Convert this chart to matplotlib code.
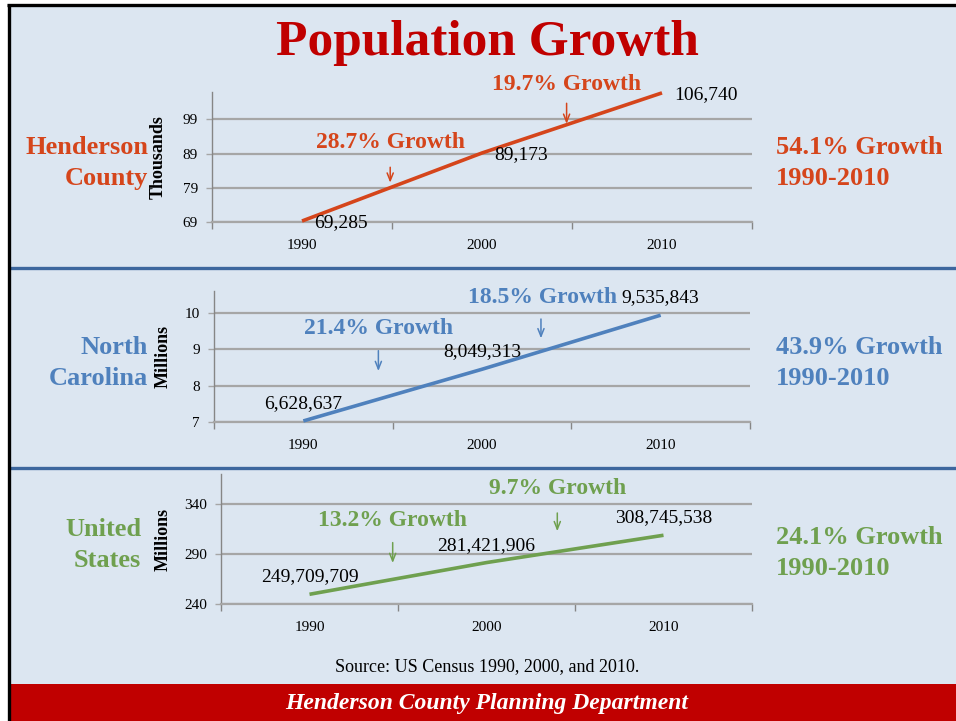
import matplotlib
matplotlib.use("Agg")
import matplotlib.pyplot as plt
from matplotlib.lines import Line2D
from matplotlib.patches import Rectangle
from matplotlib.ticker import FixedLocator, FuncFormatter

# ---------------- data ----------------
years = ["1990", "2000", "2010"]
henderson = [69.285, 89.173, 106.740]          # thousands
henderson_labels = ["69,285", "89,173", "106,740"]
henderson_yticks = [69, 79, 89, 99]
nc = [6.628637, 8.049313, 9.535843]             # millions
nc_labels = ["6,628,637", "8,049,313", "9,535,843"]
nc_yticks = [6.6, 7.6, 8.6, 9.6]                # shown rounded: 7, 8, 9, 10
us = [249.709709, 281.421906, 308.745538]       # millions
us_labels = ["249,709,709", "281,421,906", "308,745,538"]
us_yticks = [240, 290, 340]

growth_hend = ["28.7% Growth", "19.7% Growth"]
growth_nc = ["21.4% Growth", "18.5% Growth"]
growth_us = ["13.2% Growth", "9.7% Growth"]
total_hend = "54.1% Growth\n1990-2010"
total_nc = "43.9% Growth\n1990-2010"
total_us = "24.1% Growth\n1990-2010"

# ---------------- style ----------------
W, H = 956, 721
BG = "#dce6f1"
ORANGE = "#d5451b"
BLUE = "#4f81bd"
GREEN = "#6fa04f"
RED = "#c00000"
GRID = "#a6a6a6"
SERIF = ["Liberation Serif", "DejaVu Serif"]
plt.rcParams["font.family"] = SERIF

fig = plt.figure(figsize=(W / 100, H / 100), dpi=100)
fig.patch.set_facecolor("white")


def fx(px):
    return px / W


def fy(py):
    return 1 - py / H


# background panel
fig.add_artist(Rectangle((fx(9), fy(721)), 1 - fx(9), fy(5) - fy(721),
                         transform=fig.transFigure, facecolor=BG, edgecolor="none", zorder=0))
# red footer banner
fig.add_artist(Rectangle((fx(9), fy(721)), 1 - fx(9), fy(684) - fy(721),
                         transform=fig.transFigure, facecolor=RED, edgecolor="none", zorder=1))
# black border top and left
fig.add_artist(Line2D([fx(7), 1], [fy(4.5), fy(4.5)], transform=fig.transFigure,
                      color="black", lw=2.4, zorder=5, solid_capstyle="butt"))
fig.add_artist(Line2D([fx(8.5), fx(8.5)], [fy(3.5), 0], transform=fig.transFigure,
                      color="black", lw=2.4, zorder=5, solid_capstyle="butt"))
# blue dividers
for yy in (268, 468):
    fig.add_artist(Line2D([fx(10), 1], [fy(yy), fy(yy)], transform=fig.transFigure,
                          color="#3d679e", lw=2.4, zorder=2))

# title
fig.text(fx(487), fy(43), "Population Growth", ha="center", va="center",
         fontsize=37, fontweight="bold", color=RED)
# source
fig.text(fx(487), fy(667), "Source: US Census 1990, 2000, and 2010.", ha="center",
         va="center", fontsize=13, color="black")
# footer text
fig.text(fx(487), fy(703), "Henderson County Planning Department", ha="center",
         va="center", fontsize=17, fontweight="bold", fontstyle="italic", color="white")


def make_panel(box, values, labels, yticks, ylim, color, ylabel, ylabel_x,
               label_mode, name, name_x, name_y, total, total_y,
               growth, growth_pos, arrow_pos, tick_fmt):
    left, right, top, bottom = box
    ax = fig.add_axes([fx(left), fy(bottom), fx(right) - fx(left), fy(top) - fy(bottom)])
    ax.set_facecolor("none")
    x = list(range(len(values)))
    ax.plot(x, values, color=color, lw=2.6, solid_capstyle="butt", zorder=3, clip_on=False)
    ax.set_xlim(-0.5, len(values) - 0.5)
    ax.set_ylim(*ylim)
    for s in ("top", "right"):
        ax.spines[s].set_visible(False)
    ax.spines["left"].set_color("#868686")
    ax.spines["left"].set_linewidth(1.0)
    ax.spines["bottom"].set_color(GRID)
    ax.spines["bottom"].set_linewidth(1.6)
    ax.yaxis.set_major_locator(FixedLocator(yticks))
    ax.yaxis.set_major_formatter(FuncFormatter(tick_fmt))
    ax.grid(axis="y", color=GRID, lw=1.6, zorder=1)
    ax.set_axisbelow(True)
    ax.tick_params(axis="y", length=4, width=1, color=GRID, pad=6, labelsize=11)
    ax.xaxis.set_major_locator(FixedLocator([i - 0.5 for i in range(len(values) + 1)]))
    ax.xaxis.set_major_formatter(FuncFormatter(lambda v, p: ""))
    ax.xaxis.set_minor_locator(FixedLocator(x))
    ax.set_xticklabels(years, minor=True)
    ax.tick_params(axis="x", which="major", length=5, width=1, color="#868686")
    ax.tick_params(axis="x", which="minor", length=0, pad=12, labelsize=11)
    # data labels
    for xi, v, lab in zip(x, values, labels):
        if label_mode == "right":
            ax.annotate(lab, (xi, v), xytext=(9, -1), textcoords="offset points",
                        ha="left", va="center", fontsize=14, color="black", zorder=4)
        else:
            ax.annotate(lab, (xi, v), xytext=(0, 12.5), textcoords="offset points",
                        ha="center", va="center", fontsize=14, color="black", zorder=4)
    # growth annotations
    for g, (gx, gy), (axx, ay0, ay1) in zip(growth, growth_pos, arrow_pos):
        ax.text(gx, gy, g, ha="center", va="center", fontsize=17, fontweight="bold",
                color=color, clip_on=False)
        ax.annotate("", xy=(axx, ay1), xytext=(axx, ay0), annotation_clip=False,
                    arrowprops=dict(arrowstyle="->,head_length=0.55,head_width=0.22",
                                    color=color, lw=1.1, shrinkA=0, shrinkB=0))
    # axis title
    fig.text(fx(ylabel_x), fy((top + bottom) / 2), ylabel, rotation=90, ha="center",
             va="center", fontsize=13, fontweight="bold", color="black")
    # side labels
    fig.text(fx(name_x), fy(name_y), name, ha="right", va="center", fontsize=19,
             fontweight="bold", color=color, linespacing=1.45)
    fig.text(fx(776), fy(total_y), total, ha="left", va="center", fontsize=19,
             fontweight="bold", color=color, linespacing=1.4)
    return ax


make_panel((212, 752, 92, 222), henderson, henderson_labels, henderson_yticks,
           (69, 107), ORANGE, "Thousands", 158, "right",
           "Henderson\nCounty", 148, 163, total_hend, 163,
           growth_hend, [(0.49, 92.3), (1.47, 109.2)],
           [(0.49, 85.0, 80.5), (1.47, 103.7, 97.7)],
           lambda v, p: f"{v:.0f}")

make_panel((214, 750, 291, 422), nc, nc_labels, nc_yticks,
           (6.6, 10.2), BLUE, "Millions", 163, "above",
           "North\nCarolina", 148, 363, total_nc, 363,
           growth_nc, [(0.42, 9.16), (1.34, 10.01)],
           [(0.42, 8.56, 8.0), (1.33, 9.43, 8.9)],
           lambda v, p: f"{v:.0f}")

make_panel((221, 752, 474, 604), us, us_labels, us_yticks,
           (240, 370), GREEN, "Millions", 163, "above",
           "United\nStates", 141, 545, total_us, 553,
           growth_us, [(0.47, 323), (1.40, 355)],
           [(0.47, 301.4, 281.0), (1.40, 331, 312.8)],
           lambda v, p: f"{v:.0f}")

fig.savefig("out.png", dpi=100, facecolor=fig.get_facecolor())
